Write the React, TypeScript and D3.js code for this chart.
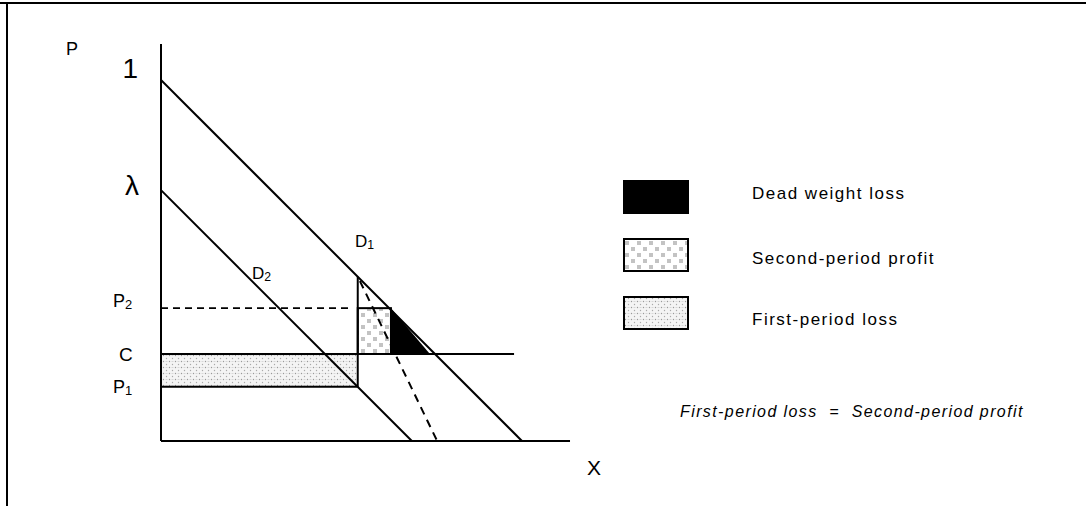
import { useRef, useEffect } from 'react';
import * as d3 from 'd3';

// price levels (P axis, 0..1)
const LAMBDA = 0.695;
const P2 = 0.368;
const C = 0.241;
const P1 = 0.15;

// quantities
const Q_CUT = LAMBDA - P1; // where D2 meets P1
const Q_P2 = 0.637;
const Q_DWL = 0.745;
const Q_MR_END = 0.765;
const Q_C_END = 0.978;

const X_MAX = 1.133;
const P_MAX = 1.1;

const legendItems = [
	{ label: 'Dead weight loss', fill: '#000' },
	{ label: 'Second-period profit', fill: 'url(#pat-profit)' },
	{ label: 'First-period loss', fill: 'url(#pat-loss)' },
];

const FONT = 'Liberation Sans, Arial, sans-serif';

export default function App() {
	const svgRef = useRef<SVGSVGElement>(null);

	useEffect(() => {
		const svg = d3.select(svgRef.current);
		svg.selectAll('*').remove();

		const W = 1086;
		const H = 506;
		const ox = 161;
		const oy = 441;
		const unit = 361;

		const x = d3.scaleLinear().domain([0, 1]).range([ox, ox + unit]);
		const y = d3.scaleLinear().domain([0, 1]).range([oy, oy - unit]);

		svg.attr('width', W).attr('height', H);

		// patterns
		const defs = svg.append('defs');
		const pp = defs
			.append('pattern')
			.attr('id', 'pat-profit')
			.attr('patternUnits', 'userSpaceOnUse')
			.attr('width', 12)
			.attr('height', 12);
		pp.append('rect').attr('width', 12).attr('height', 12).attr('fill', '#fff');
		[
			[1, 1],
			[7, 7],
		].forEach(([a, b]) => {
			const g = pp.append('g').attr('stroke', '#888').attr('stroke-width', 0.6);
			g.append('line').attr('x1', a + 1).attr('y1', b).attr('x2', a + 1).attr('y2', b + 4);
			g.append('line').attr('x1', a + 3).attr('y1', b).attr('x2', a + 3).attr('y2', b + 4);
			g.append('line').attr('x1', a).attr('y1', b + 1).attr('x2', a + 4).attr('y2', b + 1);
			g.append('line').attr('x1', a).attr('y1', b + 3).attr('x2', a + 4).attr('y2', b + 3);
		});

		const pl = defs
			.append('pattern')
			.attr('id', 'pat-loss')
			.attr('patternUnits', 'userSpaceOnUse')
			.attr('width', 6)
			.attr('height', 6);
		pl.append('rect').attr('width', 6).attr('height', 6).attr('fill', '#f4f4f4');
		pl.append('circle').attr('cx', 1.5).attr('cy', 1.5).attr('r', 0.7).attr('fill', '#999');
		pl.append('circle').attr('cx', 4.5).attr('cy', 4.5).attr('r', 0.7).attr('fill', '#aaa');
		pl.append('line')
			.attr('x1', 3.5).attr('y1', 1.5).attr('x2', 5.5).attr('y2', 1.5)
			.attr('stroke', '#bbb').attr('stroke-width', 0.5);

		// frame
		svg.append('line').attr('x1', 0).attr('y1', 3).attr('x2', W).attr('y2', 3)
			.attr('stroke', '#000').attr('stroke-width', 2);
		svg.append('line').attr('x1', 7).attr('y1', 3).attr('x2', 7).attr('y2', H)
			.attr('stroke', '#000').attr('stroke-width', 2);

		const line = (x1: number, y1: number, x2: number, y2: number, w = 2, dash?: string) => {
			const l = svg
				.append('line')
				.attr('x1', x(x1))
				.attr('y1', y(y1))
				.attr('x2', x(x2))
				.attr('y2', y(y2))
				.attr('stroke', '#000')
				.attr('stroke-width', w);
			if (dash) l.attr('stroke-dasharray', dash);
			return l;
		};

		// shaded areas
		svg.append('rect')
			.attr('x', x(0)).attr('y', y(C))
			.attr('width', x(Q_CUT) - x(0)).attr('height', y(P1) - y(C))
			.attr('fill', 'url(#pat-loss)');
		svg.append('rect')
			.attr('x', x(Q_CUT)).attr('y', y(P2))
			.attr('width', x(Q_P2) - x(Q_CUT)).attr('height', y(C) - y(P2))
			.attr('fill', 'url(#pat-profit)')
			.attr('stroke', '#000').attr('stroke-width', 2);
		svg.append('path')
			.attr('d', d3.line()([
				[x(Q_P2), y(P2)],
				[x(Q_P2), y(C)],
				[x(Q_DWL), y(C)],
			]) + 'Z')
			.attr('fill', '#000');

		// axes
		line(0, 0, 0, P_MAX, 2);
		line(0, 0, X_MAX, 0, 2);

		// demand curves
		line(0, 1, 1, 0);
		line(0, LAMBDA, LAMBDA, 0);

		// price lines
		line(0, P2, Q_CUT - 0.015, P2, 1.6, '7,5');
		line(0, C, Q_C_END, C);
		line(0, P1, Q_CUT, P1);
		line(0, C, Q_CUT, C);
		line(Q_CUT, P1, Q_CUT, 1 - Q_CUT);
		// dashed marginal line
		line(Q_CUT + 0.006, 1 - Q_CUT - 0.012, Q_MR_END, 0, 2, '8,6');

		// labels
		const text = (tx: number, ty: number, s: string, size: number, anchor = 'start', ls = 0) =>
			svg.append('text')
				.attr('x', tx)
				.attr('y', ty)
				.attr('font-family', FONT)
				.attr('font-size', size)
				.attr('letter-spacing', ls)
				.attr('text-anchor', anchor)
				.text(s);

		text(66, 55, 'P', 18);
		text(138, 78, '1', 28, 'end');
		text(139, 195, 'λ', 28, 'end');
		const sub = (tx: number, ty: number, main: string, s: string, size = 18) => {
			const t = svg.append('text')
				.attr('x', tx).attr('y', ty)
				.attr('font-family', FONT).attr('font-size', size);
			t.append('tspan').text(main);
			t.append('tspan').attr('font-size', size * 0.72).attr('dy', 2).text(s);
		};
		sub(113, 307, 'P', '2');
		text(119, 361, 'C', 19);
		sub(113, 393, 'P', '1');
		sub(355, 247, 'D', '1', 17);
		sub(252, 279, 'D', '2', 17);
		text(587, 475, 'X', 21);

		// legend
		const legendY = d3.scalePoint<number>().domain([0, 1, 2]).range([197, 313]);
		legendItems.forEach((d, i) => {
			const cy = legendY(i)!;
			svg.append('rect')
				.attr('x', 624).attr('y', cy - 16)
				.attr('width', 64).attr('height', 32)
				.attr('fill', d.fill)
				.attr('stroke', '#000').attr('stroke-width', 2);
			text(752, cy + (i === 2 ? 12 : i === 1 ? 9 : 2), d.label, 17, 'start', 1.5);
		});

		svg.append('text')
			.attr('x', 680).attr('y', 417)
			.attr('font-family', FONT).attr('font-size', 16)
			.attr('letter-spacing', 1.4)
			.attr('font-style', 'italic')
			.text('First-period loss  =  Second-period profit')
			.style('white-space', 'pre');
	}, []);

	return (
		<div style={{ position: 'absolute', left: 0, top: 0 }}>
			<svg ref={svgRef} style={{ display: 'block' }} />
		</div>
	);
}
